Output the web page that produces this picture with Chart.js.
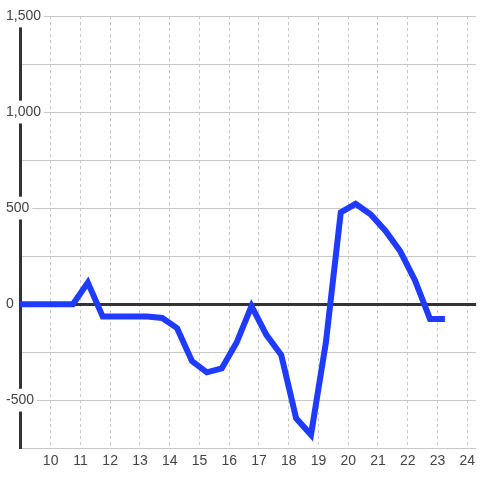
<!DOCTYPE html>
<html>
<head>
<meta charset="utf-8">
<script src="https://cdn.jsdelivr.net/npm/chart.js"></script>
<style>
  html, body { margin: 0; padding: 0; background: #fff; }
</style>
</head>
<body>
<canvas id="chart" width="480" height="480"></canvas>
<script>
// half-hour steps
const hours = [8.75, 9.25, 9.75, 10.25, 10.75, 11.25, 11.75, 12.25, 12.75, 13.25, 13.75,
  14.25, 14.75, 15.25, 15.75, 16.25, 16.75, 17.25, 17.75, 18.25, 18.75, 19.25, 19.75,
  20.25, 20.75, 21.25, 21.75, 22.25, 22.75, 23.25];
const values = [0, 0, 0, 0, 0, 112, -65, -65, -65, -65, -72,
  -125, -297, -355, -335, -200, -10, -160, -265, -594, -680, -200, 478,
  522, 468, 382, 275, 122, -78, -78];

const xMin = 8.97, xMax = 24.3;
const yMin = -750, yMax = 1500;

const points = hours.map((h, i) => ({ x: h, y: values[i] }));

new Chart(document.getElementById('chart'), {
  type: 'line',
  data: {
    datasets: [{
      data: points,
      borderColor: '#1f3bff',
      borderWidth: 6,
      pointRadius: 0,
      tension: 0,
      fill: false
    }]
  },
  options: {
    responsive: false,
    animation: false,
    layout: { padding: { left: 20, top: 16, right: 0, bottom: 5 } },
    plugins: { legend: { display: false }, tooltip: { enabled: false } },
    scales: {
      x: {
        type: 'linear',
        min: xMin,
        max: xMax,
        grid: { color: '#c8c8c8', lineWidth: 1, drawTicks: false },
        border: { display: false, dash: [3, 3] },
        ticks: {
          stepSize: 1,
          includeBounds: false,
          padding: 5,
          color: '#444',
          font: { family: 'Liberation Sans, Arial, sans-serif', size: 14 },
          callback: v => (v < 10 ? '' : v)
        }
      },
      y: {
        min: yMin,
        max: yMax,
        afterFit: s => { s.width = 0; },
        grid: {
          drawTicks: false,
          color: c => (c.tick && c.tick.value === 0 ? '#333' : '#c8c8c8'),
          lineWidth: c => (c.tick && c.tick.value === 0 ? 3 : 1)
        },
        border: { display: true, color: '#333', width: 3 },
        ticks: {
          stepSize: 250,
          mirror: true,
          padding: -14,
          color: '#444',
          font: { family: 'Liberation Sans, Arial, sans-serif', size: 14 },
          showLabelBackdrop: c => c.tick.value % 500 === 0,
          backdropColor: '#fff',
          backdropPadding: 3,
          callback: v => (v % 500 === 0 ? v.toLocaleString('en-US') : '')
        }
      }
    }
  }
});
</script>
</body>
</html>
